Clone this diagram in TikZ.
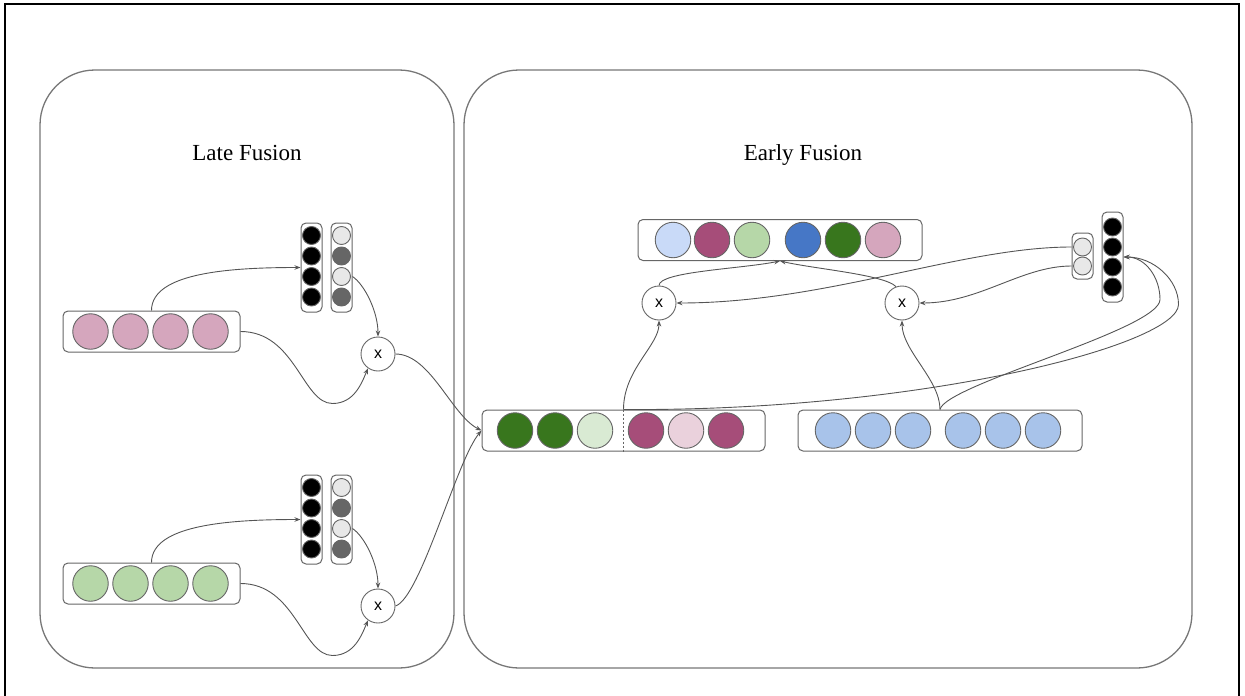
\documentclass[tikz,border=0pt]{standalone}
\usepackage{fontspec}
\setmainfont{Liberation Serif}
\newfontfamily\labelsans{Liberation Sans}
\usetikzlibrary{arrows.meta,calc}

\definecolor{panelgray}{HTML}{777777}
\definecolor{edgegray}{HTML}{666666}
\definecolor{linkgray}{HTML}{555555}
\definecolor{lpink}{HTML}{D5A6BD}
\definecolor{lgreen}{HTML}{B6D7A8}
\definecolor{dgreen}{HTML}{38761D}
\definecolor{pgreen}{HTML}{D9EAD3}
\definecolor{dmagenta}{HTML}{A64D79}
\definecolor{pmagenta}{HTML}{EAD1DC}
\definecolor{lblue}{HTML}{A8C3EA}
\definecolor{pblue}{HTML}{C9DAF8}
\definecolor{dblue}{HTML}{4677C6}
\definecolor{wgray}{HTML}{E8E8E8}
\definecolor{mgray}{HTML}{666666}

\begin{document}
\begin{tikzpicture}[x=1pt,y=-1pt,
  panel/.style={draw=panelgray,line width=1.3pt,rounded corners=55pt},
  bar/.style={draw=edgegray,line width=1pt,rounded corners=5pt,fill=white,inner sep=0pt},
  big/.style={circle,draw=edgegray,line width=0.9pt,inner sep=0pt,minimum size=35.5pt},
  small/.style={circle,draw=edgegray,line width=0.9pt,inner sep=0pt,minimum size=18pt},
  mul/.style={circle,draw=edgegray,line width=0.9pt,fill=white,inner sep=0pt,minimum size=34pt,font=\labelsans\fontsize{16}{16}\selectfont},
  link/.style={draw=linkgray,line width=0.9pt,-{Stealth[length=6pt,width=4.5pt]}},
  title/.style={font=\fontsize{23}{27}\selectfont,anchor=base}]

\useasboundingbox (0,0) rectangle (1245,696);

% outer frame
\draw[line width=1.5pt] (5,696) -- (5,4) -- (1239,4) -- (1239,696);

% panels
\draw[panel] (40,70) rectangle (454,668);
\draw[panel] (464,70) rectangle (1192,668);
\node[title] (tlate) at (247,160) {Late Fusion};
\node[title] (tearly) at (803,160) {Early Fusion};

% ---------- late fusion, upper branch ----------
\node[bar,minimum width=177pt,minimum height=41pt] (pinkbar) at (151.5,331.5) {};
\foreach \cx [count=\k] in {90.5,130.5,170.5,210.5}
  \node[big,fill=lpink] (pA\k) at (\cx,331.5) {};
\node[bar,minimum width=21pt,minimum height=89pt] (bcolA) at (311.5,267.5) {};
\node[bar,minimum width=21pt,minimum height=89pt] (gcolA) at (341.5,267.5) {};
\foreach \cy/\col [count=\k] in {235.5/wgray,256/mgray,276.5/wgray,297/mgray}{
  \node[small,fill=black] (bA\k) at (311.5,\cy) {};
  \node[small,fill=\col] (gA\k) at (341.5,\cy) {};
}
\node[mul] (mA) at (378,354) {x};

% ---------- late fusion, lower branch ----------
\node[bar,minimum width=177pt,minimum height=41pt] (greenbar) at (151.5,583.5) {};
\foreach \cx [count=\k] in {90.5,130.5,170.5,210.5}
  \node[big,fill=lgreen] (pB\k) at (\cx,583.5) {};
\node[bar,minimum width=21pt,minimum height=89pt] (bcolB) at (311.5,519.5) {};
\node[bar,minimum width=21pt,minimum height=89pt] (gcolB) at (341.5,519.5) {};
\foreach \cy/\col [count=\k] in {487.5/wgray,508/mgray,528.5/wgray,549/mgray}{
  \node[small,fill=black] (bB\k) at (311.5,\cy) {};
  \node[small,fill=\col] (gB\k) at (341.5,\cy) {};
}
\node[mul] (mB) at (378,606) {x};

% ---------- early fusion ----------
\node[bar,minimum width=283pt,minimum height=41pt] (midbar) at (623.5,430.5) {};
\draw[draw=edgegray,line width=0.6pt,dash pattern=on 2pt off 2pt] (midbar.north) -- (midbar.south);
\foreach \cx/\col [count=\k] in {515/dgreen,555/dgreen,595/pgreen,646/dmagenta,686/pmagenta,726/dmagenta}
  \node[big,fill=\col] (c\k) at (\cx,430.5) {};

\node[bar,minimum width=284pt,minimum height=41pt] (bluebar) at (940,430.5) {};
\foreach \cx [count=\k] in {833,873,913,963,1003,1043}
  \node[big,fill=lblue] (u\k) at (\cx,430.5) {};

\node[bar,minimum width=284pt,minimum height=41pt] (topbar) at (780,240) {};
\foreach \cx/\col [count=\k] in {673/pblue,712/dmagenta,752/lgreen,803/dblue,843/dgreen,883/lpink}
  \node[big,fill=\col] (t\k) at (\cx,240) {};

\node[bar,minimum width=21pt,minimum height=46pt] (scol) at (1082.5,256) {};
\node[small,fill=wgray] (sA) at (1082.5,247) {};
\node[small,fill=wgray] (sB) at (1082.5,266) {};

\node[bar,minimum width=21pt,minimum height=90pt] (bcolC) at (1112.5,257) {};
\foreach \cy [count=\k] in {227,247,267,287}
  \node[small,fill=black] (bC\k) at (1112.5,\cy) {};

\node[mul] (mC) at (659,303) {x};
\node[mul] (mD) at (902,303) {x};

% ---------- connectors ----------
\draw[link] (pinkbar.north) .. controls +(0,-38) and +(-70,0) .. (bcolA.west);
\draw[link] (gcolA.east |- gA3) .. controls +(12,8) and +(0,-25) .. (mA.north);
\draw[link] (pinkbar.east) .. controls +(55,0) and +(-30,0) .. ++(92,72)
  .. controls +(22,0) and +(-6,14) .. (mA.235);
\draw[link] (mA.east) .. controls +(35,0) and +(-30,-15) .. (midbar.west);

\draw[link] (greenbar.north) .. controls +(0,-38) and +(-70,0) .. (bcolB.west);
\draw[link] (gcolB.east |- gB3) .. controls +(12,8) and +(0,-25) .. (mB.north);
\draw[link] (greenbar.east) .. controls +(55,0) and +(-30,0) .. ++(92,72)
  .. controls +(22,0) and +(-6,14) .. (mB.235);
\draw[link] (mB.east) .. controls +(25,-8) and +(-25,30) .. (midbar.west);

\draw[link] (midbar.north) .. controls +(0,-40) and +(0,25) .. (mC.south);
\draw[link] (bluebar.north) .. controls +(0,-30) and +(0,30) .. (mD.south);
\draw[link] (mC.north) .. controls +(0,-14) and +(-40,8) .. (topbar.south);
\draw[link] (mD.110) .. controls +(-12,-12) and +(35,8) .. (topbar.south);
\draw[link] (scol.west |- sA) .. controls +(-110,0) and +(150,0) .. (mC.east);
\draw[link] (scol.west |- sB) .. controls +(-50,0) and +(60,0) .. (mD.east);
% two feeds looping round into the right-hand column
\draw[link] (midbar.north) .. controls +(300,2) and +(0,40) .. ++(555,-105)
  .. controls +(0,-25) and +(30,0) .. (bcolC.east);
\draw[link] (bluebar.north) .. controls +(5,-25) and +(0,30) .. ++(220,-110)
  .. controls +(0,-22) and +(22,0) .. (bcolC.east);
\end{tikzpicture}
\end{document}
